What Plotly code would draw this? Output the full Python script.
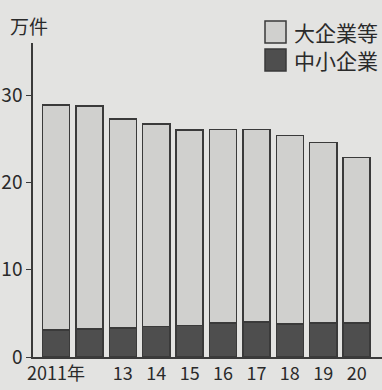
import plotly.graph_objects as go

years = ["2011", "2012", "2013", "2014", "2015", "2016", "2017", "2018", "2019", "2020"]
tick_labels = ["2011年", "", "13", "14", "15", "16", "17", "18", "19", "20"]
total = [28.9, 28.8, 27.3, 26.7, 26.0, 26.1, 26.1, 25.4, 24.6, 22.9]
sme = [3.1, 3.2, 3.3, 3.5, 3.6, 3.9, 4.0, 3.8, 3.9, 3.9]
large = [round(t - s, 2) for t, s in zip(total, sme)]
legend_labels = ["大企業等", "中小企業"]

bg = "#e3e3e1"
light = "#d0d0ce"
dark = "#4e4e4e"
edge = "#3a3a3a"
txt = "#2a2a2a"
font = "Noto Sans CJK JP"

x = list(range(len(years)))
fig = go.Figure()
fig.add_trace(go.Bar(x=x, y=sme, name=legend_labels[1], marker=dict(color=dark, line=dict(color=edge, width=1.5))))
fig.add_trace(go.Bar(x=x, y=large, name=legend_labels[0], marker=dict(color=light, line=dict(color=edge, width=1.5))))

fig.update_layout(
    barmode="stack",
    bargap=0.19,
    width=382, height=390,
    margin=dict(l=33, r=0, t=43, b=33),
    paper_bgcolor=bg, plot_bgcolor=bg,
    showlegend=False,
    font=dict(family=font, size=18, color=txt),
    xaxis=dict(tickmode="array", tickvals=x, ticktext=tick_labels, range=[-0.69, 9.76],
               showline=True, linecolor=edge, linewidth=1.5, ticks="", showgrid=False, zeroline=False,
               tickfont=dict(size=18, color=txt)),
    yaxis=dict(range=[0, 36], tickvals=[0, 10, 20, 30], showline=True, linecolor=edge, linewidth=1.5,
               ticks="outside", ticklen=5, tickcolor=edge, showgrid=False, zeroline=False,
               tickfont=dict(size=19, color=txt)),
)


def px_to_paper_x(px):
    return (px - 33) / (382 - 33)


def px_to_paper_y(py):
    return (357 - py) / (357 - 43)


fig.add_annotation(text="万件", x=px_to_paper_x(8), y=px_to_paper_y(26), xref="paper", yref="paper",
                   showarrow=False, xanchor="left", yanchor="middle", font=dict(size=19, color=txt))

for i, (lab, col) in enumerate(zip(legend_labels, [light, dark])):
    top = 21 + i * 28
    fig.add_shape(type="rect", xref="paper", yref="paper",
                  x0=px_to_paper_x(265), x1=px_to_paper_x(286),
                  y0=px_to_paper_y(top + 22), y1=px_to_paper_y(top),
                  fillcolor=col, line=dict(color=edge, width=1.5))
    fig.add_annotation(text=lab, xref="paper", yref="paper", x=px_to_paper_x(293), y=px_to_paper_y(top + 11),
                       xanchor="left", yanchor="middle", showarrow=False, borderpad=0,
                       font=dict(size=21, color=txt))

fig.write_html("out.html")
